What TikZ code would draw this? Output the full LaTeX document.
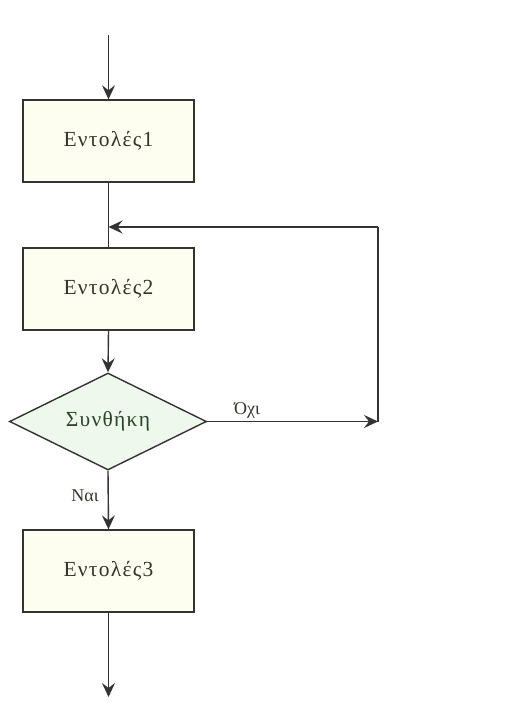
\documentclass[tikz,border=0pt]{standalone}
\usepackage{fontspec}
\setmainfont{Liberation Serif}
\newfontfamily\boxfont[LetterSpace=6]{Liberation Serif}
\usetikzlibrary{arrows.meta,shapes.geometric}
\definecolor{boxfill}{HTML}{FEFEF0}
\definecolor{diafill}{HTML}{EEF8EC}
\definecolor{linec}{HTML}{333333}
\definecolor{txtc}{HTML}{34342A}
\definecolor{condc}{HTML}{2A452A}
\tikzset{
  procbox/.style={draw=linec, fill=boxfill, line width=1.4pt, minimum width=171pt, minimum height=82pt, inner sep=0pt, text=txtc, font=\boxfont\fontsize{21.5}{24}\selectfont},
  decbox/.style={draw=linec, fill=diafill, line width=1.4pt, diamond, inner sep=0pt, text=condc, font=\boxfont\fontsize{21.5}{24}\selectfont},
  conn/.style={draw=linec, line width=1.4pt},
  arr/.style={conn, -{Stealth[length=14pt, width=13pt, inset=5pt]}},
  lbl/.style={text=txtc, font=\fontsize{18}{20}\selectfont, inner sep=0pt}
}
\begin{document}
\begin{tikzpicture}[x=1pt,y=-1pt]
\useasboundingbox (0,0) rectangle (509,703);
\node[procbox] (b1) at (108.5,141) {Εντολές1};
\node[procbox] (b2) at (108.5,289) {Εντολές2};
\node[decbox, minimum width=197pt, minimum height=97pt, aspect=2.03] (d) at (108,421.5) {Συνθήκη};
\node[procbox] (b3) at (108.5,571) {Εντολές3};
\coordinate (start) at (108.5,35);
\coordinate (end) at (108.5,697);
\coordinate (j) at (108.5,227);
\coordinate (r1) at (378,421.5);
\coordinate (r2) at (378,227);
\draw[arr] (start) -- (b1.north);
\draw[conn] (b1.south) -- (b2.north);
\draw[arr] (b2.south) -- (d.north);
\draw[arr] (d.east) -- (r1);
\draw[conn] (r1) -- (r2);
\draw[arr] (r2) -- (j);
\draw[arr] (d.south) -- (b3.north);
\draw[arr] (b3.south) -- (end);
\node[lbl] (no) at (247,410) {Όχι};
\node[lbl] (yes) at (85,496) {Ναι};
\end{tikzpicture}
\end{document}
